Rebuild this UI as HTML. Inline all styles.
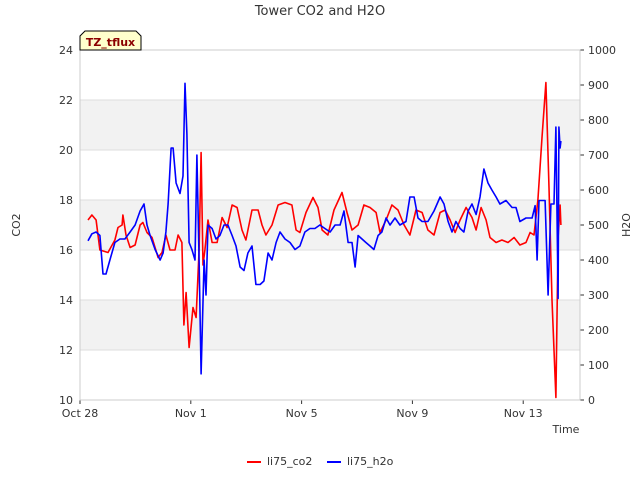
<!DOCTYPE html>
<html><head><meta charset="utf-8"><style>
body{margin:0;background:#fff;font-family:"DejaVu Sans","Liberation Sans",sans-serif;}
svg text{font-family:"DejaVu Sans","Liberation Sans",sans-serif;}
</style></head><body>
<svg id="chart" width="640" height="480" xmlns="http://www.w3.org/2000/svg"></svg>
<script>
const xTickLabels=["Oct 28","Nov 1","Nov 5","Nov 9","Nov 13"];
const xTickDays=[0,4,8,12,16];
const leftTicks=[10,12,14,16,18,20,22,24];
const rightTicks=[0,100,200,300,400,500,600,700,800,900,1000];
const co2Days=[0.29,0.43,0.58,0.72,1.01,1.26,1.37,1.52,1.55,1.66,1.81,1.99,2.17,2.27,2.42,2.6,2.82,2.96,3.1,3.25,3.43,3.54,3.68,3.75,3.83,3.94,4.08,4.19,4.3,4.37,4.44,4.51,4.62,4.77,4.95,5.13,5.31,5.49,5.67,5.85,5.99,6.21,6.43,6.57,6.71,6.93,7.15,7.4,7.65,7.8,7.94,8.16,8.41,8.59,8.74,8.95,9.17,9.46,9.64,9.82,10.04,10.25,10.47,10.69,10.83,11.05,11.26,11.48,11.7,11.91,12.13,12.35,12.56,12.78,13.0,13.18,13.36,13.54,13.72,13.94,14.15,14.3,14.48,14.66,14.8,15.02,15.23,15.45,15.67,15.88,16.1,16.25,16.39,16.53,16.68,16.82,16.93,17.04,17.18,17.26,17.33,17.36];
const co2Vals=[17.2,17.4,17.2,16.0,15.9,16.4,16.9,17.0,17.4,16.6,16.1,16.2,17.0,17.1,16.7,16.5,15.7,15.9,16.6,16.0,16.0,16.6,16.3,13.0,14.3,12.1,13.7,13.3,16.0,19.9,15.4,16.0,17.2,16.3,16.3,17.3,16.9,17.8,17.7,16.8,16.4,17.6,17.6,17.0,16.6,17.0,17.8,17.9,17.8,16.8,16.7,17.5,18.1,17.7,16.8,16.6,17.6,18.3,17.5,16.8,17.0,17.8,17.7,17.5,16.7,17.2,17.8,17.6,17.0,16.6,17.6,17.5,16.8,16.6,17.5,17.6,17.2,16.7,17.2,17.7,17.3,16.8,17.7,17.2,16.5,16.3,16.4,16.3,16.5,16.2,16.3,16.7,16.6,18.0,20.5,22.7,18.5,14.0,10.1,16.5,17.8,17.0];
const h2oDays=[0.29,0.43,0.58,0.72,0.83,0.94,1.08,1.26,1.44,1.62,1.81,1.99,2.17,2.31,2.42,2.53,2.71,2.89,3.0,3.1,3.18,3.29,3.36,3.47,3.61,3.72,3.79,3.86,3.94,4.04,4.15,4.22,4.3,4.37,4.48,4.55,4.62,4.77,4.91,5.05,5.2,5.34,5.49,5.63,5.78,5.92,6.06,6.21,6.35,6.5,6.64,6.79,6.93,7.08,7.22,7.4,7.58,7.76,7.94,8.12,8.3,8.48,8.66,8.84,9.03,9.21,9.39,9.53,9.68,9.82,9.93,10.04,10.18,10.32,10.47,10.61,10.76,10.9,11.05,11.19,11.37,11.55,11.77,11.91,12.06,12.2,12.35,12.56,12.78,13.0,13.14,13.29,13.43,13.57,13.72,13.86,14.01,14.15,14.3,14.44,14.58,14.73,14.87,15.02,15.16,15.38,15.6,15.74,15.88,16.1,16.32,16.43,16.5,16.57,16.68,16.79,16.9,17.0,17.11,17.18,17.26,17.29,17.33,17.36];
const h2oVals=[455,475,480,470,360,360,400,450,460,460,480,500,540,560,500,470,430,400,420,480,560,720,720,620,590,640,905,760,450,430,400,700,400,75,400,300,500,490,460,470,500,500,470,440,380,370,420,440,330,330,340,420,400,450,480,460,450,430,440,480,490,490,500,490,480,500,500,540,450,450,380,470,460,450,440,430,470,480,520,500,520,500,510,580,580,520,510,510,540,580,560,510,480,510,490,480,540,560,530,580,660,620,600,580,560,570,550,550,510,520,520,555,400,570,570,570,300,560,560,780,290,780,720,740];

const L=80,R=580,T=50,B=400,D0=0,D1=18.05;
const xS=d=>L+(d-D0)/(D1-D0)*(R-L);
const yL=v=>B-(v-10)/14*(B-T);
const yR=v=>B-v/1000*(B-T);
const svg=document.getElementById('chart');
const NS='http://www.w3.org/2000/svg';
function mk(tag,attrs,parent){const e=document.createElementNS(NS,tag);for(const k in attrs)e.setAttribute(k,attrs[k]);(parent||svg).appendChild(e);return e;}

// bands
[[20,22],[16,18],[12,14]].forEach(b=>{
  const r=mk('rect',{x:L,y:yL(b[1]),width:R-L,height:yL(b[0])-yL(b[1]),fill:'#f2f2f2'});
  
  
});
leftTicks.forEach(v=>{
  const g=mk('line',{x1:L,x2:R,y1:yL(v),y2:yL(v),stroke:'#dddddd','stroke-width':1});
  
  
  const t=mk('text',{x:L-7,y:yL(v)+4,'text-anchor':'end','font-size':11,fill:'#333'});
  t.textContent=v;
  
  
});
rightTicks.forEach(v=>{
  mk('line',{x1:R,x2:R+4,y1:yR(v),y2:yR(v),stroke:'#333'});
  const t=mk('text',{x:R+8,y:yR(v)+4,'font-size':11,fill:'#333'});
  t.textContent=v;
  
  
});
xTickDays.forEach((d,i)=>{
  mk('line',{x1:xS(d),x2:xS(d),y1:B,y2:B+4,stroke:'#333'});
  const t=mk('text',{x:xS(d),y:B+17,'text-anchor':'middle','font-size':11,fill:'#333'});
  t.textContent=xTickLabels[i];
  
  
});
mk('rect',{x:L,y:T,width:R-L,height:B-T,fill:'none',stroke:'#cccccc'});

function line(days,vals,ys,color,name){
  const p=days.map((d,i)=>xS(d).toFixed(1)+','+ys(vals[i]).toFixed(1)).join(' ');
  const e=mk('polyline',{points:p,fill:'none',stroke:color,'stroke-width':1.6,'stroke-linejoin':'round'});
  
  
}
line(co2Days,co2Vals,yL,'#ff0000','li75-co2-line');
line(h2oDays,h2oVals,yR,'#0000ff','li75-h2o-line');
</script>
<svg style="position:absolute;left:0;top:0" width="640" height="480" xmlns="http://www.w3.org/2000/svg">
  <text x="320" y="15" text-anchor="middle" font-size="13" fill="#333">Tower CO2 and H2O</text>
  <polygon points="80,50 80,36 85,31 136,31 141,36 141,50" fill="#ffffcc" stroke="#000" stroke-width="1"/>
  <text x="110.5" y="46" text-anchor="middle" font-size="11" font-weight="bold" fill="#8b0000">TZ_tflux</text>
  <text x="20" y="225" text-anchor="middle" font-size="11" fill="#333" transform="rotate(-90 20 225)">CO2</text>
  <text x="630" y="225" text-anchor="middle" font-size="11" fill="#333" transform="rotate(-90 630 225)">H2O</text>
  <text x="566" y="433" text-anchor="middle" font-size="11" fill="#333">Time</text>
  <g>
    <line x1="247" x2="261" y1="462" y2="462" stroke="#ff0000" stroke-width="2"/>
    <text x="267" y="465" font-size="11" fill="#333">li75_co2</text>
    <line x1="327" x2="341" y1="462" y2="462" stroke="#0000ff" stroke-width="2"/>
    <text x="347" y="465" font-size="11" fill="#333">li75_h2o</text>
  </g>
</svg>
</body></html>
